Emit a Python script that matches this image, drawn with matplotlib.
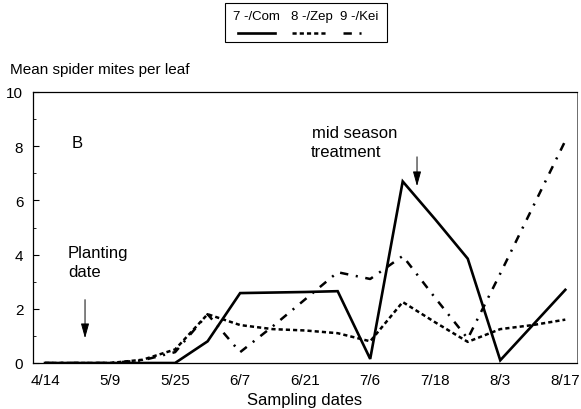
import matplotlib
matplotlib.use("Agg")
import matplotlib.pyplot as plt
from matplotlib.lines import Line2D
from matplotlib.patches import Rectangle
from matplotlib.ticker import MultipleLocator

plt.rcParams['font.family'] = ['Liberation Sans', 'DejaVu Sans']
plt.rcParams['lines.scale_dashes'] = False

# ---- data ----
date_labels = ['4/14', '5/9', '5/25', '6/7', '6/21', '7/6', '7/18', '8/3', '8/17']
sample_pos = [0, 0.5, 1, 1.5, 2, 2.5, 3, 3.5, 4, 4.5, 5, 5.5, 6, 6.5, 7, 7.5, 8]
com = [0, 0, 0, 0, 0, 0.8, 2.58, 2.6, 2.62, 2.65, 0.15, 6.7, 5.3, 3.85, 0.1, 1.4, 2.7]
zep = [0, 0, 0, 0.12, 0.5, 1.8, 1.4, 1.25, 1.2, 1.1, 0.8, 2.25, 1.5, 0.78, 1.25, 1.4, 1.6]
kei = [0, 0, 0, 0.1, 0.4, 1.8, 0.4, 1.35, 2.35, 3.35, 3.1, 3.95, 2.4, 0.9, 3.3, 5.75, 8.2]
series_names = ['7 -/Com', '8 -/Zep', '9 -/Kei']

W, H = 581, 410
fig = plt.figure(figsize=(W / 100, H / 100), dpi=100)
ax = fig.add_axes([33 / W, 1 - 364 / H, (577 - 33) / W, (364 - 93) / H])

dash_zep = (3.0, 2.2)
dash_kei = (6.0, 5.5, 1.5, 5.5)

ax.plot(sample_pos, com, color='black', lw=1.9, solid_joinstyle='miter')
l2, = ax.plot(sample_pos, zep, color='black', lw=1.8)
l2.set_dashes(dash_zep)
l3, = ax.plot(sample_pos, kei, color='black', lw=1.8)
l3.set_dashes(dash_kei)

ax.set_xlim(-0.185, 8.18)
ax.set_ylim(0, 10)
ax.set_xticks(range(len(date_labels)))
ax.set_xticklabels(date_labels)
ax.set_yticks([0, 2, 4, 6, 8, 10])
ax.yaxis.set_minor_locator(MultipleLocator(1))
ax.tick_params(axis='x', length=0, pad=7.5, labelsize=11)
ax.tick_params(axis='y', which='major', direction='in', length=4, width=0.8, pad=7, labelsize=11)
ax.tick_params(axis='y', which='minor', direction='in', length=2, width=0.6)
for s in ax.spines.values():
    s.set_linewidth(0.9)
    s.set_color('black')
ax.spines['right'].set_linewidth(0.6)
ax.spines['right'].set_color('#555555')

ax.set_xlabel('Sampling dates', fontsize=12, labelpad=3)
fig.text(10 / W, 1 - 70 / H, 'Mean spider mites per leaf', fontsize=11, va='center', ha='left')

# annotations
ax.text(0.5, 8.15, 'B', fontsize=12, ha='center', va='center')
ax.text(0.354, 4.06, 'Planting', fontsize=12, ha='left', va='center')
ax.text(0.354, 3.39, 'date', fontsize=12, ha='left', va='center')
ax.annotate('', xy=(0.615, 0.81), xytext=(0.615, 2.44),
            arrowprops=dict(arrowstyle='-|>,head_length=0.9,head_width=0.25', color='black', lw=0.7))
ax.text(4.11, 8.52, 'mid season', fontsize=12, ha='left', va='center')
ax.text(4.08, 7.82, 'treatment', fontsize=12, ha='left', va='center')
ax.annotate('', xy=(5.72, 6.42), xytext=(5.72, 7.71),
            arrowprops=dict(arrowstyle='-|>,head_length=0.9,head_width=0.25', color='black', lw=0.7))

# legend (manual, labels above samples)
fig.add_artist(Rectangle((225 / W, 1 - 43 / H), (387 - 225) / W, (43 - 4) / H,
                         transform=fig.transFigure, fill=False, lw=0.8, edgecolor='black'))
label_cx = [256.5, 311.5, 359.5]
for name, cx in zip(series_names, label_cx):
    fig.text(cx / W, 1 - 17 / H, name, fontsize=9.5, ha='center', va='center')
ly = 1 - 34 / H
fig.add_artist(Line2D([238 / W, 275 / W], [ly, ly], transform=fig.transFigure, color='black', lw=1.9))
lz = Line2D([292 / W, 327 / W], [ly, ly], transform=fig.transFigure, color='black', lw=1.8)
lz.set_dashes(dash_zep)
fig.add_artist(lz)
lk = Line2D([343 / W, 365 / W], [ly, ly], transform=fig.transFigure, color='black', lw=1.8)
lk.set_dashes((6.0, 5.5, 1.5, 5.5))
fig.add_artist(lk)

fig.savefig('out.png', dpi=100)
